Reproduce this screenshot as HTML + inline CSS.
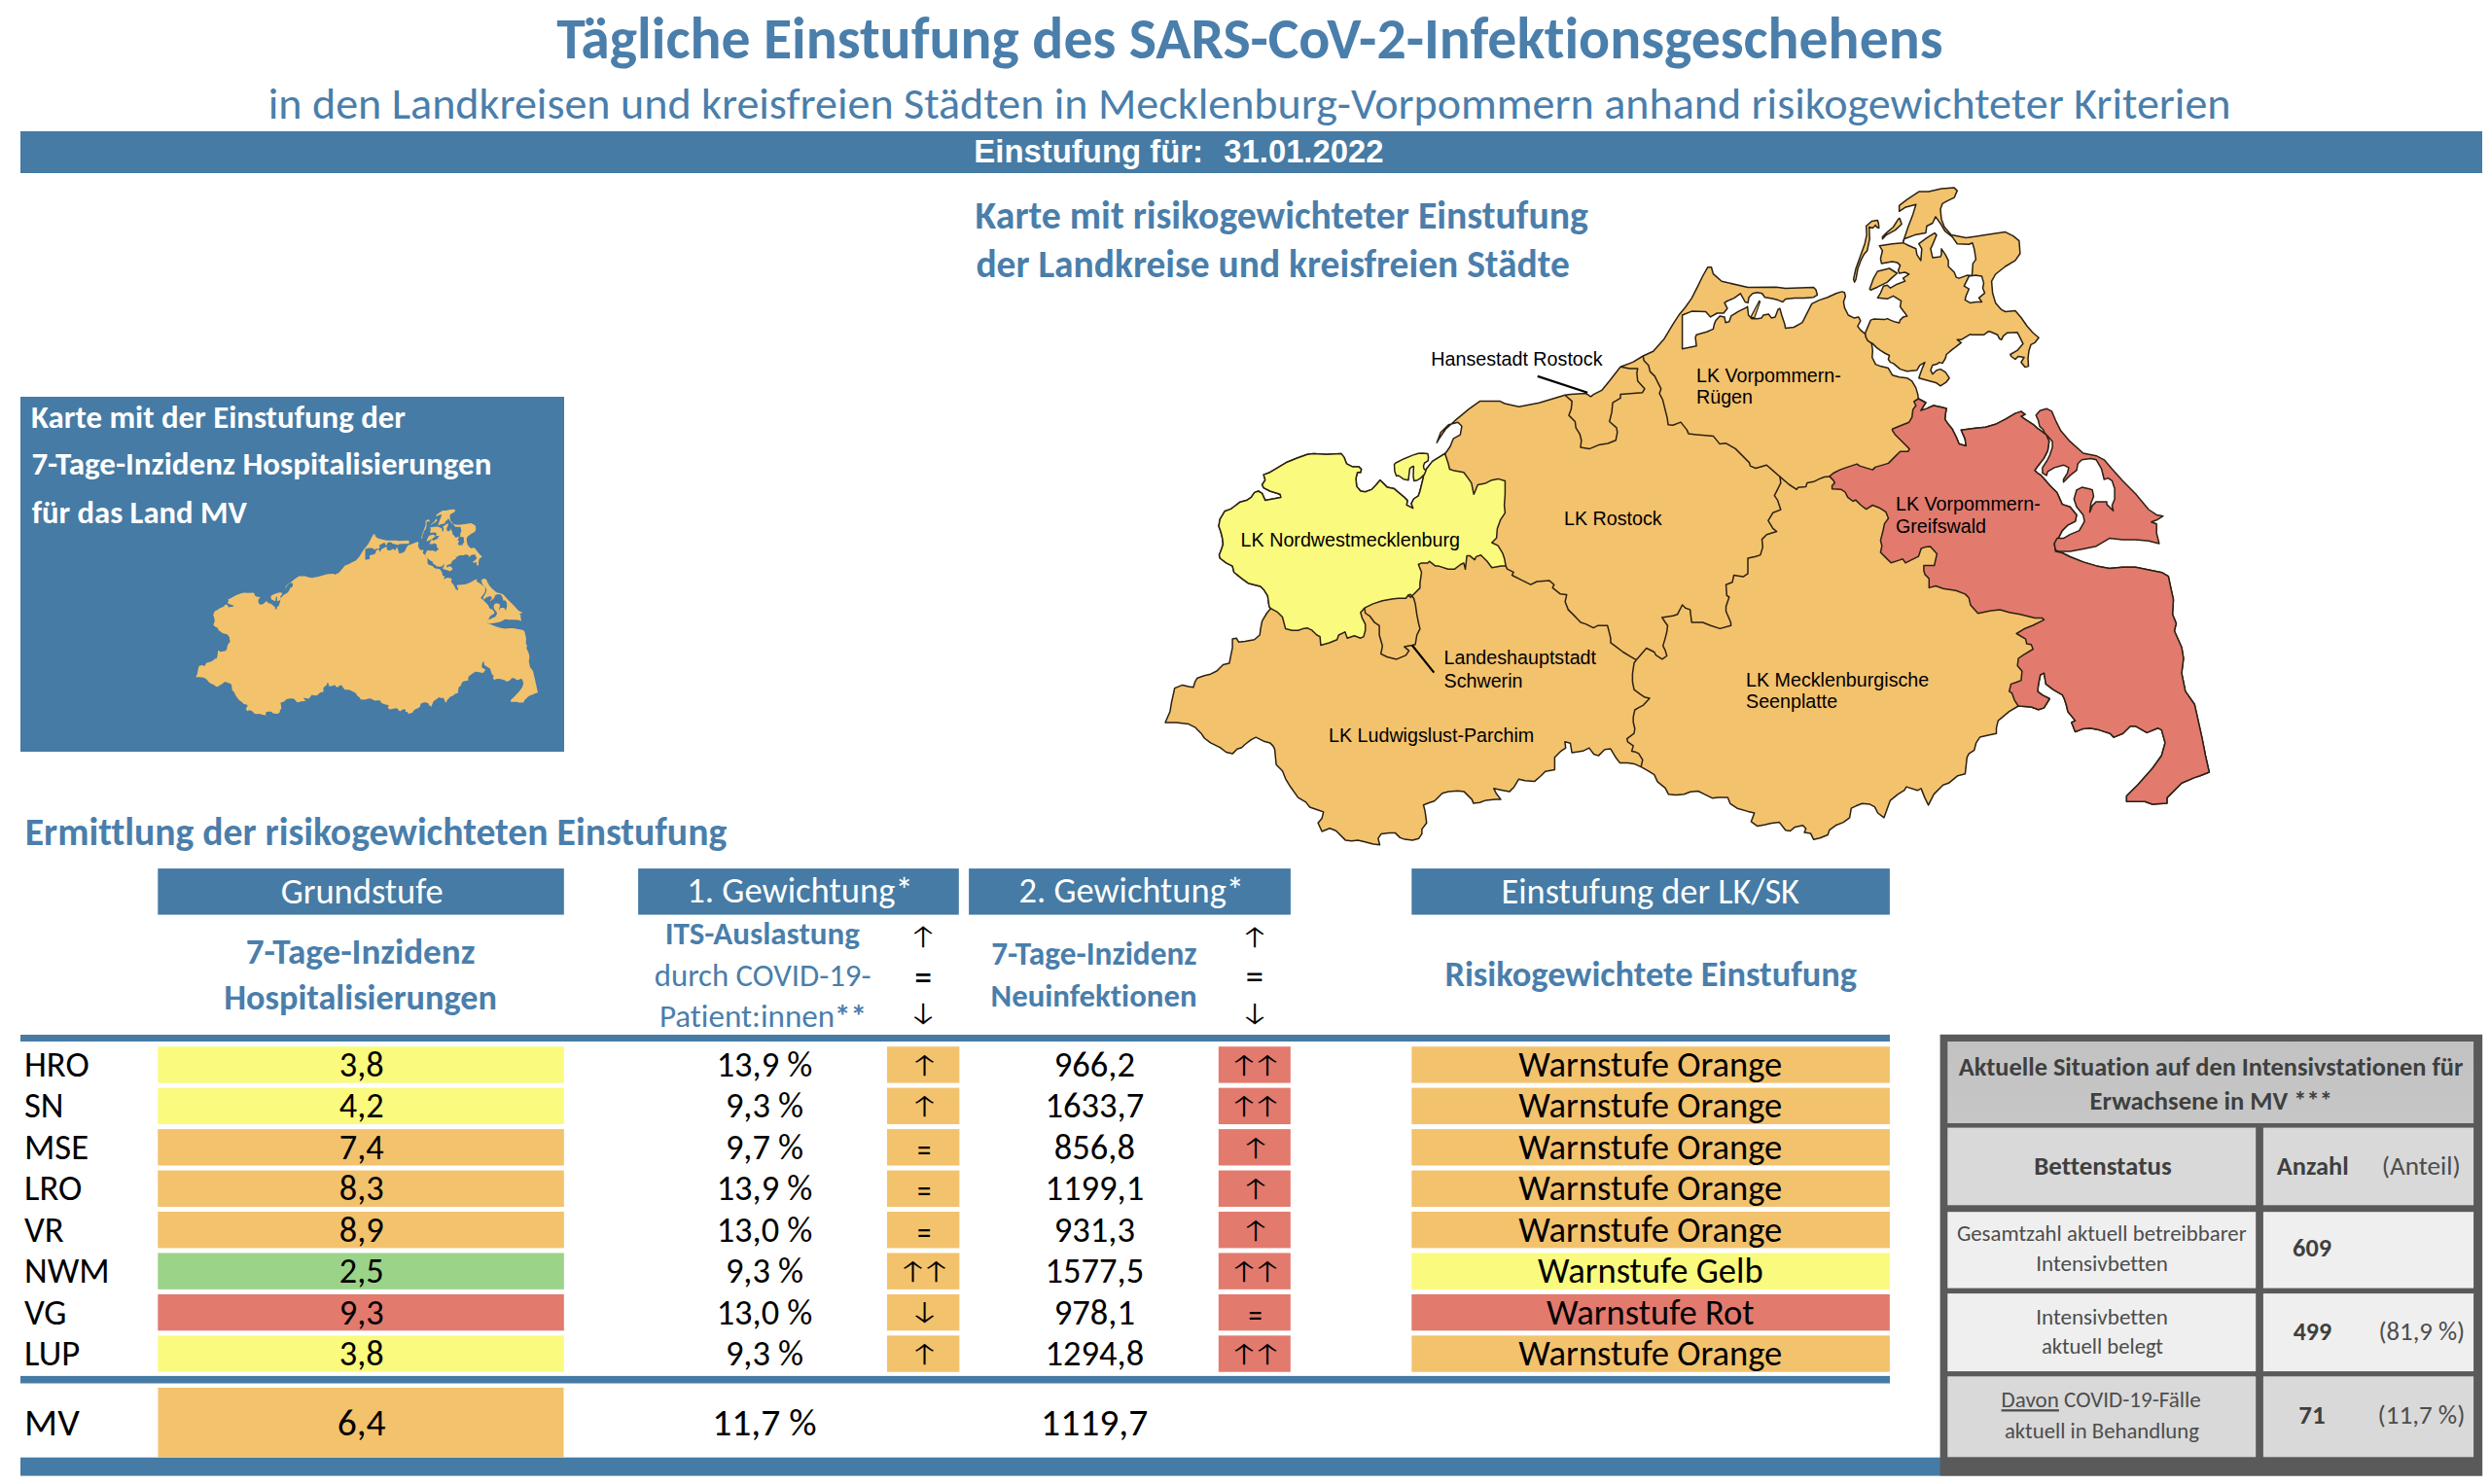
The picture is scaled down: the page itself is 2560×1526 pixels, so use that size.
<!DOCTYPE html><html lang="de"><head><meta charset="utf-8"><title>Tägliche Einstufung des SARS-CoV-2-Infektionsgeschehens</title>
<style>html,body{margin:0;padding:0;background:#fff;overflow:hidden}svg{display:block}text{font-family:Carlito, Calibri, 'Liberation Sans', sans-serif;font-variant-ligatures:none;font-feature-settings:"liga" 0,"clig" 0}</style></head><body>
<svg xmlns="http://www.w3.org/2000/svg" width="2560" height="1526" viewBox="0 0 2560 1526">
<rect width="2560" height="1526" fill="#fff"/>
<text textLength="1425.25" lengthAdjust="spacingAndGlyphs" x="572.3" y="59.8" font-size="59.69" font-weight="bold" fill="#4a7eab">Tägliche Einstufung des SARS-CoV-2-Infektionsgeschehens</text>
<text textLength="2017.77" lengthAdjust="spacingAndGlyphs" x="275.8" y="121.8" font-size="46.07" fill="#4a7eab">in den Landkreisen und kreisfreien Städten in Mecklenburg-Vorpommern anhand risikogewichteter Kriterien</text>
<rect x="21" y="135" width="2531" height="43" fill="#457ba5" />
<text textLength="235.78" lengthAdjust="spacingAndGlyphs" x="1001.3" y="167.3" font-size="32.91" font-weight="bold" style="font-family:'Liberation Sans', Arial, sans-serif" fill="#fff">Einstufung für:</text>
<text textLength="164.08" lengthAdjust="spacingAndGlyphs" x="1258.34" y="167.3" font-size="32.79" font-weight="bold" style="font-family:'Liberation Sans', Arial, sans-serif" fill="#fff">31.01.2022</text>
<text textLength="630.25" lengthAdjust="spacingAndGlyphs" x="1002.61" y="234.8" font-size="39.73" font-weight="bold" fill="#4a7eab">Karte mit risikogewichteter Einstufung</text>
<text textLength="610.44" lengthAdjust="spacingAndGlyphs" x="1003.42" y="284.6" font-size="39.47" font-weight="bold" fill="#4a7eab">der Landkreise und kreisfreien Städte</text>
<rect x="21" y="408" width="559" height="365" fill="#457ba5" />
<text textLength="384.98" lengthAdjust="spacingAndGlyphs" x="32.06" y="440.1" font-size="32.84" font-weight="bold" fill="#fff">Karte mit der Einstufung der</text>
<text textLength="473.00" lengthAdjust="spacingAndGlyphs" x="32.38" y="488.3" font-size="33.02" font-weight="bold" fill="#fff">7-Tage-Inzidenz Hospitalisierungen</text>
<text textLength="221.23" lengthAdjust="spacingAndGlyphs" x="32.67" y="537.5" font-size="32.68" font-weight="bold" fill="#fff">für das Land MV</text>
<g transform="translate(-191.262,463.135) scale(0.32768,0.31365)">
<polygon points="1304.9,623.8 1303.3,612.6 1299.2,606.2 1296,603 1283.2,599.7 1276.7,594.9 1268.7,588.5 1267.1,582.1 1260.7,578.9 1254.3,574 1253.5,570.8 1255.9,564.4 1257.5,559.6 1256.7,553.2 1255.1,546.7 1253,541.1 1254.3,533.9 1259.1,525.8 1265.5,523.4 1268.7,521 1275.1,516.2 1281.6,514.6 1286.4,511.4 1289.6,506.6 1293.6,505 1297.6,507.4 1300.8,514.6 1316.9,511.4 1316.1,508.2 1305.7,505 1299.2,501.7 1297.6,498.5 1300.8,493.7 1299.2,488.1 1305.7,485.7 1313.7,480.9 1323.3,475.2 1333,471.2 1344.2,467.2 1350.6,466.4 1363.5,467.2 1378.8,466.4 1382,470.4 1384.4,476.8 1390.8,480.1 1397.2,480.1 1399.6,482.5 1398.8,485.7 1395.6,485.7 1394,492.1 1394.8,500.1 1398.8,505 1403.7,505.8 1410.1,503.4 1414.9,498.5 1418.9,493.7 1422.1,496.9 1426.1,500.9 1433.4,502.6 1439,507.4 1443.8,511.4 1447,514.6 1446.2,519.4 1452.7,522.6 1451,517.8 1453.5,513 1458.3,509.8 1459.9,505 1461.5,498.5 1463.1,492.1 1463.9,487.3 1466.3,482.5 1472.7,474.4 1479.2,470.4 1485.6,466.4 1485.3,467.2 1490.9,459.2 1494.1,451.2 1501.3,447.1 1502.9,438.3 1498.9,434.3 1489.3,436.7 1481.2,444.7 1477.2,455.2 1479.6,451.2 1486.1,441.5 1495.7,432.7 1510.2,420.6 1521.4,412.6 1542.3,412.6 1547.1,415 1561.6,418.2 1582.4,414.2 1609,406.2 1614.6,405.4 1630.6,404.6 1635.5,407.8 1638.7,405.4 1646.7,401.4 1654.7,391.7 1666,377.3 1678.8,372.4 1689.3,366 1699.7,361.2 1711,348.4 1720.6,332.3 1727,322.7 1732.5,316.3 1739.3,306.6 1745.1,295.1 1750.8,283.5 1755.7,274.8 1759.5,274.8 1761.4,281.6 1770.1,289.3 1797.1,295.5 1826,295.3 1835.7,296.5 1864.6,295.5 1867,298 1868.4,303.3 1864.6,305.7 1854.9,306.4 1845.3,306.6 1835.7,307.4 1832.8,310.5 1828,308.6 1822.2,307.1 1814.5,305.7 1811.6,301.8 1806.7,300.8 1801.9,301.8 1798.1,305.7 1797.1,311.4 1794.2,310.5 1789.4,301.8 1782.7,306.6 1775.9,309.5 1773,311.4 1775.9,317.2 1772,322 1765.3,322 1758.6,325.9 1753.7,320.6 1739.3,320.1 1729.6,324 1729.6,358.7 1744.1,355.8 1743.1,347.1 1744.1,344.2 1754.7,341.3 1761.4,338.4 1762.4,333.6 1763.9,329.8 1768.2,324.9 1773,325.9 1774,331.7 1777.8,330.7 1779.8,324.9 1787.5,320.1 1795.2,316.3 1796.6,315.3 1797.6,324 1801,327.8 1806.7,327.8 1811.1,326.9 1813,324 1818.3,323 1821.2,326.9 1825.1,325.9 1828,318.2 1829.9,317.2 1831.8,324 1834.7,332.7 1835.7,337.5 1844.3,336.5 1853,331.7 1854.9,327.8 1858.8,320.1 1862.7,312.4 1870.4,308.6 1879,305.7 1887.7,301.8 1893.5,299.9 1896.4,300.8 1897.3,304.7 1895.4,310.5 1896.4,316.3 1900.2,324 1906,326.9 1910.8,325.9 1912.8,329.8 1909.9,335.5 1912.8,339.4 1917.6,343.3 1917.7,343.3 1920.2,349.3 1924.3,353.4 1925.3,360.4 1924.8,367.5 1928.3,374.6 1933.4,376.6 1941.4,378.6 1945.5,385.7 1952.6,387.7 1960.7,388.7 1965.7,391.8 1969.8,398.9 1971.8,405.9 1972.3,410 1972.3,410 1979.9,414 1974.8,422.1 1980.9,420.1 1987.9,417 1995,418.6 2001.1,420.1 2000.1,426.1 1999.6,431.2 2003.1,436.3 2007.2,441.3 2011.2,449.4 2014.2,456.5 2021.3,458.5 2020.3,451.4 2016.3,442.3 2031.4,440.3 2041.5,439.3 2051.6,436.3 2061.7,431.2 2071.9,425.1 2077.9,423.1 2082,426.1 2077.9,428.2 2082,431.2 2090.1,436.3 2094.6,440.4 2098.6,443.1 2104,447.2 2106.7,453.9 2105.3,463.3 2101.3,471.4 2095.9,478.2 2091.9,483.6 2094.6,486.3 2098.6,488.9 2108,499.7 2114.8,506.5 2120.2,518.6 2128.2,521.3 2135,529.4 2133.6,536.1 2125.6,540.2 2120.2,545.6 2116.1,553.6 2112.1,559 2113.4,567.1 2120.2,568.5 2128.2,572.5 2141.7,577.9 2155.2,581.9 2168.7,584.6 2182.2,583.3 2195.6,583.3 2209.1,586 2222.6,588.7 2229.3,592.7 2234.5,616.6 2233.6,631.7 2237.4,641.1 2235.5,648.7 2243,665.7 2244.9,677 2243,692.1 2246.8,710.9 2256.2,724.2 2260,741.1 2263.8,758.1 2267.5,777 2271.3,794 2261.9,797.7 2256.2,799.6 2243,805.3 2231.7,816.6 2227.9,820.4 2227.9,826 2212.8,827 2205.3,824.2 2186.4,824.2 2186.4,818.5 2197.7,807.2 2212.8,790.2 2222.3,777 2226,763.8 2222.3,750.6 2218.5,748.7 2207.2,753.4 2195.8,746.8 2190.2,746.8 2182.6,754.3 2173.2,758.1 2169.4,754.3 2158.1,750.6 2148.7,748.7 2141.1,749.6 2133.6,752.5 2129.8,743 2133.6,741.1 2126,731.7 2124.2,724.2 2122.3,718.5 2120.4,714.7 2110.9,709.1 2103.4,703.4 2101.5,692.1 2097.7,694 2095.8,703.4 2094.9,710.9 2099.6,714.7 2107.2,718.5 2101.5,727.9 2095.8,729.8 2088.3,727 2075.1,726 2075.1,726 2065.7,731.7 2054.3,741.1 2052.5,748.7 2052.5,754.3 2043,756.2 2035.5,758.1 2031.7,763.8 2029.8,771.3 2024.2,775.1 2022.3,778.9 2020.4,795.8 2012.8,797.7 2003.4,805.3 1997.7,807.2 1988.3,816.6 1982.6,827.9 1978.9,820.4 1975.1,810.9 1971.3,812.8 1960,809.1 1957.9,812.7 1951.4,816.7 1943.4,823.1 1937,840.8 1930.6,836 1927.3,829.6 1922.5,827.1 1914.5,826.3 1908.1,828.8 1903.3,831.2 1901.6,840.8 1895.2,845.6 1887.2,848.8 1880.8,853.7 1879.2,858.5 1871.1,861.7 1864.7,863.3 1861.5,856.9 1855.1,856.1 1856.7,852 1853.5,848.8 1845.4,850.4 1840.6,854.5 1835.8,853.7 1829.4,845.6 1821.3,846.4 1814.9,848 1806.9,849.6 1800.4,844.8 1803.7,836 1797.2,834.4 1786,831.2 1778.8,826.3 1776.3,819.9 1766.7,819.9 1760.3,820.7 1752.2,816.7 1745.8,813.5 1737.8,814.3 1731.4,816.7 1723.3,817.5 1715.3,816.7 1712.1,810.3 1704.1,803.9 1700.8,796.6 1694.4,792.6 1687.2,788.6 1680,785.4 1673.5,784.6 1665.5,784.6 1660.7,778.2 1655.9,770.1 1649.8,770.7 1643.4,777.1 1638.6,775.5 1633.8,769.1 1627.3,772.3 1622.5,773.1 1616.1,773.9 1614.5,764.3 1608.9,762.7 1609.7,769.1 1604.9,772.3 1598.4,778.7 1598.4,791.6 1588.8,793.2 1584,798 1577.6,803.6 1567.9,802.8 1561.5,801.2 1556.7,809.2 1551.8,814.1 1543.8,812.4 1535.8,810.8 1538.2,815.7 1543,822.1 1537.4,822.1 1527.8,822.9 1521.3,825.3 1514.9,826.1 1513.3,822.1 1505.3,814.1 1498.8,813.3 1489.2,814.1 1482.8,815.7 1474.7,823.7 1469.9,825.3 1463.5,827.7 1465.1,834.1 1465.9,839.8 1466.7,846.2 1461.9,852.6 1461.9,857.4 1458.7,862.2 1452.2,863.9 1444.2,863.1 1439.4,861.4 1434.6,856.6 1428.2,856.6 1420.1,857.4 1416.9,862.2 1418.5,868.7 1412.1,867.9 1402.4,865.5 1396,863.9 1389.6,864.7 1383.2,863.9 1373.5,854.2 1367.1,851.8 1359.1,855 1355.1,846.2 1359.1,841.4 1360.7,834.9 1355.9,833.3 1346.5,830 1346.6,830 1342.6,824.9 1334.6,820.1 1326.5,808.8 1321.7,800.8 1318.5,792.8 1312.1,786.3 1310.5,770.3 1308.9,767.1 1305.7,763.9 1299.2,762.2 1291.2,758.2 1286.4,760.6 1280,765.5 1276.7,768.7 1271.9,770.3 1267.1,775.1 1260.7,773.5 1254.3,768.7 1244.6,763.9 1238.2,759 1235,754.2 1228.6,747.8 1222.1,744.6 1209.3,743 1198,743 1202.9,731.7 1204.5,722.1 1207.7,707.6 1215.7,704.4 1222.1,706 1226.9,706.8 1228.6,701.2 1231,697.2 1238.2,694.8 1244.6,693.2 1251,690 1257.5,683.5 1263.9,681.9 1265.5,673.9 1267.1,665.9 1267.1,657 1271.1,656.2 1273.5,660.2 1280,659.4 1289.6,657.8 1295.2,653 1296,646.6 1297.6,638.6 1302.4,630.5 1306.5,625.7" fill="#f3c26d"/>
<polygon points="1952.6,211.3 1960.7,205.2 1972.8,197.1 1982.9,197.1 1996,194.1 2009.2,193.1 2012.2,196.1 2009.2,203.2 2001.1,207.2 1997,209.3 1995,215.3 1996,225.4 1999.1,233.5 2006.1,241.6 2021.3,244.6 2041.5,241.6 2061.7,238.6 2069.8,242.6 2075.9,247.7 2076.9,260.8 2071.9,267.9 2061.7,274 2051.6,282 2047.6,289.1 2048.6,301.3 2051.6,311.4 2057.7,318.4 2061.7,320.5 2071.9,319.5 2077.9,326.5 2084,335.2 2090.1,342.2 2096.1,347.3 2092.1,352.3 2088,354.4 2086,360.4 2085,368.5 2085.5,376.6 2082,377.6 2077.9,372.6 2081,367.5 2074.9,366.5 2071.9,369.5 2067.8,366.5 2066.8,364.5 2073.9,360.4 2079.9,353.4 2074.9,343.3 2073.9,341.7 2063.8,342.2 2059.7,345.3 2057.7,349.3 2055.7,348.3 2053.7,344.3 2046.6,341.2 2044.6,340.7 2039.5,344.3 2027.4,344.3 2025.4,343.8 2016.3,349.3 2012.2,349.3 2016.3,352.3 2011.2,356.4 2007.2,359.4 2001.1,364.5 2000.1,368.5 1997,373.6 1994,372.6 1991,374.6 1986.9,375.6 1984.9,380.7 1986.9,384.7 1991,380.7 1995,379.6 2000.1,382.7 2004.1,388.7 2001.1,392.8 1995,396.8 1991,393.8 1972.8,388.7 1974.8,382.7 1976.8,377.6 1978.9,372.6 1973.8,375.6 1970.8,380.7 1960.7,381.7 1953.6,379.6 1946.5,373.6 1943.5,372.6 1941.4,369.5 1942.5,365.5 1938.4,363.5 1933.4,360.4 1929.3,357.4 1925.3,353.4 1920.2,350.3 1918.2,346.3 1917.7,342.4 1923.3,329.1 1926.3,328.1 1937.4,328.6 1940.4,327.6 1943.5,329.1 1948.5,331.1 1952.6,332.1 1953.6,329.1 1956.6,326.1 1960.7,325.1 1958.6,322 1956.6,319.5 1953.6,315.4 1954.6,309.3 1946.5,304.3 1940.4,307.3 1930.3,306.3 1933.4,301.3 1936.4,294.2 1940.4,293.2 1943.5,296.2 1950.5,292.2 1958.6,289.1 1956.6,286.1 1962.7,282 1958.6,280 1952.6,281 1951.6,278 1953.6,272.9 1950.5,269.9 1945.5,268.9 1934.4,270.9 1933.4,265.9 1935.4,257.8 1932.3,252.7 1945.5,250.7 1956.6,249.7 1957.6,245.7 1961.7,233.5 1966.7,220.4 1969.8,210.3 1958.6,213.3 1952.6,217.3" fill="#f3c26d"/>
<polygon points="1922.2,297.2 1926.3,286.1 1930.3,279 1942.5,276 1950.5,281 1944.5,286.1 1940.4,290.1 1936.4,292.2 1930.3,295.2 1923.3,298.2" fill="#f3c26d"/>
<polygon points="1918.7,232.5 1924.3,227.5 1930.3,226.4 1931.3,229.5 1931.8,234.5 1929.3,233.5 1928.3,231.5 1925.3,234.5 1921.7,233.5 1922.2,245.7 1919.7,257.8 1916.2,261.8 1913.1,267.9 1910.1,276 1908.1,287.1 1906.6,290.1 1905.6,287.1 1908.1,276 1912.1,264.9 1917.2,250.7 1919.2,241.6" fill="#f3c26d"/>
<polygon points="1935.4,245.7 1939.4,241.6 1948.5,236.6 1955.1,230.5 1953.1,224.4 1951.6,225.4 1946.5,233.5 1940.4,238.6 1935.4,243.6" fill="#f3c26d"/>
<polygon points="1433.5,477.5 1435,476 1443.6,471.7 1452.3,468.1 1458.1,466.3 1462.4,465.9 1467.9,466.6 1468.6,470.2 1468.2,473.9 1464.6,476 1463.5,478.9 1463.9,481.8 1466,484 1464.6,487.6 1460.3,491.9 1456.6,494.1 1453.8,494.5 1453,489.8 1453.4,479.6 1451.6,480 1449.4,481.8 1448.7,487.6 1448,493.7 1442.9,492.7 1437.8,489 1435.7,489.4 1433.9,484.7" fill="#f3c26d"/>
<polygon points="2093.2,427 2097.3,422.2 2104,420.2 2109.4,422.9 2113.4,432.3 2118.8,443.1 2128.2,453.9 2141.7,466 2155.2,468.7 2163.3,472.8 2171.4,482.2 2182.2,494.3 2195.6,507.8 2209.1,524 2217.2,529.4 2223.9,530.7 2217.2,534.8 2211.8,536.8 2217.2,538.8 2217.2,548.2 2219.9,559 2209.1,556.3 2195.6,555 2182.2,555 2168.7,553.6 2155.2,561.7 2141.7,564.4 2128.2,567.1 2117.5,567.1 2113.4,565.8 2112.1,559 2114.8,553.6 2121.5,553.6 2128.2,549.6 2137.7,545.6 2143.1,536.1 2141.7,529.4 2135,521.3 2132.3,513.2 2135,503.8 2140.4,501.1 2147.1,502.4 2151.2,503.8 2152.5,510.5 2149.8,517.3 2148.5,526.7 2151.2,519.9 2155.2,515.9 2166,515.9 2166,518.6 2172.7,525.3 2171.4,519.9 2174.1,513.2 2174.1,502.4 2171.4,494.3 2167.3,491.6 2163.3,493 2160.6,482.2 2155.2,472.8 2149.8,471.4 2140.4,472.8 2136.3,476.8 2135,483.6 2128.2,488.9 2121.5,495.7 2121.5,493 2125.6,486.3 2126.9,480.9 2121.5,478.2 2112.1,480.9 2105.3,484.9 2104,488.9 2099.9,486.3 2099.9,480.9 2104.7,473.5 2107.4,468.1 2110.1,460 2110.1,453.9 2106,449.2 2102,445.1 2100.6,441.8 2097,438.4 2095.6,432.3" fill="#f3c26d"/>
<polygon points="1957.6,245.7 1968.7,241.6 1979.9,239.6 1980.9,232.5 1986.9,229.5 1990,222.9 1995.5,230.5 1999.6,237.6 2007.2,243.6 2012.2,250.7 2024.3,251.2 2027.9,249.7 2029.9,256.8 2031.4,266.9 2028.4,270.9 2027.4,283.6 2022.3,283.1 2014.2,286.1 2011.2,285.1 2009.2,280 2003.1,274 2003.1,267.9 2000.1,261.8 1996,255.8 1996,261.8 1995,263.9 1986.9,264.9 1984.9,255.8 1986.9,251.7 1991,241.6 1989,239.6 1980.9,244.6 1972.8,250.7 1975.8,255.8 1974.8,267.9 1970.8,261.8 1969.8,255.8 1960.7,251.7 1956.6,249.7" fill="#457ba5"/>
<polygon points="2024.3,284.1 2031.4,283.1 2037.5,284.1 2039.5,291.1 2038.5,296.2 2040.5,301.3 2034.5,306.3 2037.5,310.4 2031.4,310.4 2025.4,311.4 2020.3,308.3 2021.3,304.3 2024.3,297.2 2019.3,294.2 2021.3,290.1" fill="#457ba5"/>
</g>
<g id="bigmap">
<polygon points="1304.9,623.8 1303.3,612.6 1299.2,606.2 1296,603 1283.2,599.7 1276.7,594.9 1268.7,588.5 1267.1,582.1 1260.7,578.9 1254.3,574 1253.5,570.8 1255.9,564.4 1257.5,559.6 1256.7,553.2 1255.1,546.7 1253,541.1 1254.3,533.9 1259.1,525.8 1265.5,523.4 1268.7,521 1275.1,516.2 1281.6,514.6 1286.4,511.4 1289.6,506.6 1293.6,505 1297.6,507.4 1300.8,514.6 1316.9,511.4 1316.1,508.2 1305.7,505 1299.2,501.7 1297.6,498.5 1300.8,493.7 1299.2,488.1 1305.7,485.7 1313.7,480.9 1323.3,475.2 1333,471.2 1344.2,467.2 1350.6,466.4 1363.5,467.2 1378.8,466.4 1382,470.4 1384.4,476.8 1390.8,480.1 1397.2,480.1 1399.6,482.5 1398.8,485.7 1395.6,485.7 1394,492.1 1394.8,500.1 1398.8,505 1403.7,505.8 1410.1,503.4 1414.9,498.5 1418.9,493.7 1422.1,496.9 1426.1,500.9 1433.4,502.6 1439,507.4 1443.8,511.4 1447,514.6 1446.2,519.4 1452.7,522.6 1451,517.8 1453.5,513 1458.3,509.8 1459.9,505 1461.5,498.5 1463.1,492.1 1463.9,487.3 1466.3,482.5 1472.7,474.4 1479.2,470.4 1485.6,466.4 1485.3,467.2 1490.9,459.2 1494.1,451.2 1501.3,447.1 1502.9,438.3 1498.9,434.3 1489.3,436.7 1481.2,444.7 1477.2,455.2 1479.6,451.2 1486.1,441.5 1495.7,432.7 1510.2,420.6 1521.4,412.6 1542.3,412.6 1547.1,415 1561.6,418.2 1582.4,414.2 1609,406.2 1614.6,405.4 1630.6,404.6 1635.5,407.8 1638.7,405.4 1646.7,401.4 1654.7,391.7 1666,377.3 1678.8,372.4 1689.3,366 1699.7,361.2 1711,348.4 1720.6,332.3 1727,322.7 1732.5,316.3 1739.3,306.6 1745.1,295.1 1750.8,283.5 1755.7,274.8 1759.5,274.8 1761.4,281.6 1770.1,289.3 1797.1,295.5 1826,295.3 1835.7,296.5 1864.6,295.5 1867,298 1868.4,303.3 1864.6,305.7 1854.9,306.4 1845.3,306.6 1835.7,307.4 1832.8,310.5 1828,308.6 1822.2,307.1 1814.5,305.7 1811.6,301.8 1806.7,300.8 1801.9,301.8 1798.1,305.7 1797.1,311.4 1794.2,310.5 1789.4,301.8 1782.7,306.6 1775.9,309.5 1773,311.4 1775.9,317.2 1772,322 1765.3,322 1758.6,325.9 1753.7,320.6 1739.3,320.1 1729.6,324 1729.6,358.7 1744.1,355.8 1743.1,347.1 1744.1,344.2 1754.7,341.3 1761.4,338.4 1762.4,333.6 1763.9,329.8 1768.2,324.9 1773,325.9 1774,331.7 1777.8,330.7 1779.8,324.9 1787.5,320.1 1795.2,316.3 1796.6,315.3 1797.6,324 1801,327.8 1806.7,327.8 1811.1,326.9 1813,324 1818.3,323 1821.2,326.9 1825.1,325.9 1828,318.2 1829.9,317.2 1831.8,324 1834.7,332.7 1835.7,337.5 1844.3,336.5 1853,331.7 1854.9,327.8 1858.8,320.1 1862.7,312.4 1870.4,308.6 1879,305.7 1887.7,301.8 1893.5,299.9 1896.4,300.8 1897.3,304.7 1895.4,310.5 1896.4,316.3 1900.2,324 1906,326.9 1910.8,325.9 1912.8,329.8 1909.9,335.5 1912.8,339.4 1917.6,343.3 1917.7,343.3 1920.2,349.3 1924.3,353.4 1925.3,360.4 1924.8,367.5 1928.3,374.6 1933.4,376.6 1941.4,378.6 1945.5,385.7 1952.6,387.7 1960.7,388.7 1965.7,391.8 1969.8,398.9 1971.8,405.9 1972.3,410 1972.3,410 1979.9,414 1974.8,422.1 1980.9,420.1 1987.9,417 1995,418.6 2001.1,420.1 2000.1,426.1 1999.6,431.2 2003.1,436.3 2007.2,441.3 2011.2,449.4 2014.2,456.5 2021.3,458.5 2020.3,451.4 2016.3,442.3 2031.4,440.3 2041.5,439.3 2051.6,436.3 2061.7,431.2 2071.9,425.1 2077.9,423.1 2082,426.1 2077.9,428.2 2082,431.2 2090.1,436.3 2094.6,440.4 2098.6,443.1 2104,447.2 2106.7,453.9 2105.3,463.3 2101.3,471.4 2095.9,478.2 2091.9,483.6 2094.6,486.3 2098.6,488.9 2108,499.7 2114.8,506.5 2120.2,518.6 2128.2,521.3 2135,529.4 2133.6,536.1 2125.6,540.2 2120.2,545.6 2116.1,553.6 2112.1,559 2113.4,567.1 2120.2,568.5 2128.2,572.5 2141.7,577.9 2155.2,581.9 2168.7,584.6 2182.2,583.3 2195.6,583.3 2209.1,586 2222.6,588.7 2229.3,592.7 2234.5,616.6 2233.6,631.7 2237.4,641.1 2235.5,648.7 2243,665.7 2244.9,677 2243,692.1 2246.8,710.9 2256.2,724.2 2260,741.1 2263.8,758.1 2267.5,777 2271.3,794 2261.9,797.7 2256.2,799.6 2243,805.3 2231.7,816.6 2227.9,820.4 2227.9,826 2212.8,827 2205.3,824.2 2186.4,824.2 2186.4,818.5 2197.7,807.2 2212.8,790.2 2222.3,777 2226,763.8 2222.3,750.6 2218.5,748.7 2207.2,753.4 2195.8,746.8 2190.2,746.8 2182.6,754.3 2173.2,758.1 2169.4,754.3 2158.1,750.6 2148.7,748.7 2141.1,749.6 2133.6,752.5 2129.8,743 2133.6,741.1 2126,731.7 2124.2,724.2 2122.3,718.5 2120.4,714.7 2110.9,709.1 2103.4,703.4 2101.5,692.1 2097.7,694 2095.8,703.4 2094.9,710.9 2099.6,714.7 2107.2,718.5 2101.5,727.9 2095.8,729.8 2088.3,727 2075.1,726 2075.1,726 2065.7,731.7 2054.3,741.1 2052.5,748.7 2052.5,754.3 2043,756.2 2035.5,758.1 2031.7,763.8 2029.8,771.3 2024.2,775.1 2022.3,778.9 2020.4,795.8 2012.8,797.7 2003.4,805.3 1997.7,807.2 1988.3,816.6 1982.6,827.9 1978.9,820.4 1975.1,810.9 1971.3,812.8 1960,809.1 1957.9,812.7 1951.4,816.7 1943.4,823.1 1937,840.8 1930.6,836 1927.3,829.6 1922.5,827.1 1914.5,826.3 1908.1,828.8 1903.3,831.2 1901.6,840.8 1895.2,845.6 1887.2,848.8 1880.8,853.7 1879.2,858.5 1871.1,861.7 1864.7,863.3 1861.5,856.9 1855.1,856.1 1856.7,852 1853.5,848.8 1845.4,850.4 1840.6,854.5 1835.8,853.7 1829.4,845.6 1821.3,846.4 1814.9,848 1806.9,849.6 1800.4,844.8 1803.7,836 1797.2,834.4 1786,831.2 1778.8,826.3 1776.3,819.9 1766.7,819.9 1760.3,820.7 1752.2,816.7 1745.8,813.5 1737.8,814.3 1731.4,816.7 1723.3,817.5 1715.3,816.7 1712.1,810.3 1704.1,803.9 1700.8,796.6 1694.4,792.6 1687.2,788.6 1680,785.4 1673.5,784.6 1665.5,784.6 1660.7,778.2 1655.9,770.1 1649.8,770.7 1643.4,777.1 1638.6,775.5 1633.8,769.1 1627.3,772.3 1622.5,773.1 1616.1,773.9 1614.5,764.3 1608.9,762.7 1609.7,769.1 1604.9,772.3 1598.4,778.7 1598.4,791.6 1588.8,793.2 1584,798 1577.6,803.6 1567.9,802.8 1561.5,801.2 1556.7,809.2 1551.8,814.1 1543.8,812.4 1535.8,810.8 1538.2,815.7 1543,822.1 1537.4,822.1 1527.8,822.9 1521.3,825.3 1514.9,826.1 1513.3,822.1 1505.3,814.1 1498.8,813.3 1489.2,814.1 1482.8,815.7 1474.7,823.7 1469.9,825.3 1463.5,827.7 1465.1,834.1 1465.9,839.8 1466.7,846.2 1461.9,852.6 1461.9,857.4 1458.7,862.2 1452.2,863.9 1444.2,863.1 1439.4,861.4 1434.6,856.6 1428.2,856.6 1420.1,857.4 1416.9,862.2 1418.5,868.7 1412.1,867.9 1402.4,865.5 1396,863.9 1389.6,864.7 1383.2,863.9 1373.5,854.2 1367.1,851.8 1359.1,855 1355.1,846.2 1359.1,841.4 1360.7,834.9 1355.9,833.3 1346.5,830 1346.6,830 1342.6,824.9 1334.6,820.1 1326.5,808.8 1321.7,800.8 1318.5,792.8 1312.1,786.3 1310.5,770.3 1308.9,767.1 1305.7,763.9 1299.2,762.2 1291.2,758.2 1286.4,760.6 1280,765.5 1276.7,768.7 1271.9,770.3 1267.1,775.1 1260.7,773.5 1254.3,768.7 1244.6,763.9 1238.2,759 1235,754.2 1228.6,747.8 1222.1,744.6 1209.3,743 1198,743 1202.9,731.7 1204.5,722.1 1207.7,707.6 1215.7,704.4 1222.1,706 1226.9,706.8 1228.6,701.2 1231,697.2 1238.2,694.8 1244.6,693.2 1251,690 1257.5,683.5 1263.9,681.9 1265.5,673.9 1267.1,665.9 1267.1,657 1271.1,656.2 1273.5,660.2 1280,659.4 1289.6,657.8 1295.2,653 1296,646.6 1297.6,638.6 1302.4,630.5 1306.5,625.7" fill="#f3c26d" stroke="#2b2113" stroke-width="1.5" stroke-linejoin="round" />
<polygon points="1952.6,211.3 1960.7,205.2 1972.8,197.1 1982.9,197.1 1996,194.1 2009.2,193.1 2012.2,196.1 2009.2,203.2 2001.1,207.2 1997,209.3 1995,215.3 1996,225.4 1999.1,233.5 2006.1,241.6 2021.3,244.6 2041.5,241.6 2061.7,238.6 2069.8,242.6 2075.9,247.7 2076.9,260.8 2071.9,267.9 2061.7,274 2051.6,282 2047.6,289.1 2048.6,301.3 2051.6,311.4 2057.7,318.4 2061.7,320.5 2071.9,319.5 2077.9,326.5 2084,335.2 2090.1,342.2 2096.1,347.3 2092.1,352.3 2088,354.4 2086,360.4 2085,368.5 2085.5,376.6 2082,377.6 2077.9,372.6 2081,367.5 2074.9,366.5 2071.9,369.5 2067.8,366.5 2066.8,364.5 2073.9,360.4 2079.9,353.4 2074.9,343.3 2073.9,341.7 2063.8,342.2 2059.7,345.3 2057.7,349.3 2055.7,348.3 2053.7,344.3 2046.6,341.2 2044.6,340.7 2039.5,344.3 2027.4,344.3 2025.4,343.8 2016.3,349.3 2012.2,349.3 2016.3,352.3 2011.2,356.4 2007.2,359.4 2001.1,364.5 2000.1,368.5 1997,373.6 1994,372.6 1991,374.6 1986.9,375.6 1984.9,380.7 1986.9,384.7 1991,380.7 1995,379.6 2000.1,382.7 2004.1,388.7 2001.1,392.8 1995,396.8 1991,393.8 1972.8,388.7 1974.8,382.7 1976.8,377.6 1978.9,372.6 1973.8,375.6 1970.8,380.7 1960.7,381.7 1953.6,379.6 1946.5,373.6 1943.5,372.6 1941.4,369.5 1942.5,365.5 1938.4,363.5 1933.4,360.4 1929.3,357.4 1925.3,353.4 1920.2,350.3 1918.2,346.3 1917.7,342.4 1923.3,329.1 1926.3,328.1 1937.4,328.6 1940.4,327.6 1943.5,329.1 1948.5,331.1 1952.6,332.1 1953.6,329.1 1956.6,326.1 1960.7,325.1 1958.6,322 1956.6,319.5 1953.6,315.4 1954.6,309.3 1946.5,304.3 1940.4,307.3 1930.3,306.3 1933.4,301.3 1936.4,294.2 1940.4,293.2 1943.5,296.2 1950.5,292.2 1958.6,289.1 1956.6,286.1 1962.7,282 1958.6,280 1952.6,281 1951.6,278 1953.6,272.9 1950.5,269.9 1945.5,268.9 1934.4,270.9 1933.4,265.9 1935.4,257.8 1932.3,252.7 1945.5,250.7 1956.6,249.7 1957.6,245.7 1961.7,233.5 1966.7,220.4 1969.8,210.3 1958.6,213.3 1952.6,217.3" fill="#f3c26d" stroke="#2b2113" stroke-width="1.5" stroke-linejoin="round" />
<polygon points="1957.6,245.7 1968.7,241.6 1979.9,239.6 1980.9,232.5 1986.9,229.5 1990,222.9 1995.5,230.5 1999.6,237.6 2007.2,243.6 2012.2,250.7 2024.3,251.2 2027.9,249.7 2029.9,256.8 2031.4,266.9 2028.4,270.9 2027.4,283.6 2022.3,283.1 2014.2,286.1 2011.2,285.1 2009.2,280 2003.1,274 2003.1,267.9 2000.1,261.8 1996,255.8 1996,261.8 1995,263.9 1986.9,264.9 1984.9,255.8 1986.9,251.7 1991,241.6 1989,239.6 1980.9,244.6 1972.8,250.7 1975.8,255.8 1974.8,267.9 1970.8,261.8 1969.8,255.8 1960.7,251.7 1956.6,249.7" fill="#fff" stroke="#2b2113" stroke-width="1.5" stroke-linejoin="round" />
<polygon points="2024.3,284.1 2031.4,283.1 2037.5,284.1 2039.5,291.1 2038.5,296.2 2040.5,301.3 2034.5,306.3 2037.5,310.4 2031.4,310.4 2025.4,311.4 2020.3,308.3 2021.3,304.3 2024.3,297.2 2019.3,294.2 2021.3,290.1" fill="#fff" stroke="#2b2113" stroke-width="1.5" stroke-linejoin="round" />
<polygon points="1922.2,297.2 1926.3,286.1 1930.3,279 1942.5,276 1950.5,281 1944.5,286.1 1940.4,290.1 1936.4,292.2 1930.3,295.2 1923.3,298.2" fill="#f3c26d" stroke="#2b2113" stroke-width="1.5" stroke-linejoin="round" />
<polygon points="1800,326.1 1808.8,309.3 1809.6,310.1 1803.8,326.9" fill="#f3c26d" stroke="#2b2113" stroke-width="1.2" stroke-linejoin="round" />
<polygon points="1918.7,232.5 1924.3,227.5 1930.3,226.4 1931.3,229.5 1931.8,234.5 1929.3,233.5 1928.3,231.5 1925.3,234.5 1921.7,233.5 1922.2,245.7 1919.7,257.8 1916.2,261.8 1913.1,267.9 1910.1,276 1908.1,287.1 1906.6,290.1 1905.6,287.1 1908.1,276 1912.1,264.9 1917.2,250.7 1919.2,241.6" fill="#f3c26d" stroke="#2b2113" stroke-width="1.5" stroke-linejoin="round" />
<polygon points="1935.4,245.7 1939.4,241.6 1948.5,236.6 1955.1,230.5 1953.1,224.4 1951.6,225.4 1946.5,233.5 1940.4,238.6 1935.4,243.6" fill="#f3c26d" stroke="#2b2113" stroke-width="1.5" stroke-linejoin="round" />
<polygon points="1304.9,623.8 1303.3,612.6 1299.2,606.2 1296,603 1283.2,599.7 1276.7,594.9 1268.7,588.5 1267.1,582.1 1260.7,578.9 1254.3,574 1253.5,570.8 1255.9,564.4 1257.5,559.6 1256.7,553.2 1255.1,546.7 1253,541.1 1254.3,533.9 1259.1,525.8 1265.5,523.4 1268.7,521 1275.1,516.2 1281.6,514.6 1286.4,511.4 1289.6,506.6 1293.6,505 1297.6,507.4 1300.8,514.6 1316.9,511.4 1316.1,508.2 1305.7,505 1299.2,501.7 1297.6,498.5 1300.8,493.7 1299.2,488.1 1305.7,485.7 1313.7,480.9 1323.3,475.2 1333,471.2 1344.2,467.2 1350.6,466.4 1363.5,467.2 1378.8,466.4 1382,470.4 1384.4,476.8 1390.8,480.1 1397.2,480.1 1399.6,482.5 1398.8,485.7 1395.6,485.7 1394,492.1 1394.8,500.1 1398.8,505 1403.7,505.8 1410.1,503.4 1414.9,498.5 1418.9,493.7 1422.1,496.9 1426.1,500.9 1433.4,502.6 1439,507.4 1443.8,511.4 1447,514.6 1446.2,519.4 1452.7,522.6 1451,517.8 1453.5,513 1458.3,509.8 1459.9,505 1461.5,498.5 1463.1,492.1 1463.9,487.3 1466.3,482.5 1472.7,474.4 1479.2,470.4 1485.6,466.4 1485.6,466.4 1488.8,476 1490.4,482.5 1495.2,484.1 1504.9,485.7 1509.7,492.1 1512.9,496.9 1514.5,505 1515.3,508.2 1519.3,498.5 1527.3,496.9 1533.8,493.7 1540.2,492.4 1547.4,494.5 1547.4,508.2 1546.6,519.4 1547.4,527.4 1542.6,534.7 1539.4,543.5 1538.6,553.2 1533.8,558 1540.2,561.2 1545,569.2 1546.6,574 1548.2,582.1 1548.2,582.1 1543.4,582.1 1533.8,583.7 1529,577.2 1522.5,570.8 1517.7,572.4 1516.1,575.6 1511.3,571.6 1508.1,571.6 1506.5,585.3 1504.9,578.9 1501.6,580.5 1495.2,585.3 1488.8,585.3 1479.2,582.1 1475.9,582.1 1469.5,577.2 1467.9,578.9 1461.5,578.9 1458.3,580.5 1461.5,588.5 1459.9,599.7 1459.9,604.6 1450.2,614.2 1447.8,612.3 1447.8,612 1445.4,615.3 1437.4,615.3 1431,616.1 1421.3,617.7 1411.7,620.9 1402.9,625.2 1402.9,625.2 1398.8,629.7 1400.4,635.3 1403.7,641.8 1403.7,648.2 1402,654.6 1398.8,656.2 1392.4,653.8 1385.2,656.2 1382.8,649.8 1376.3,653 1374.7,657.8 1366.7,661 1357.9,663.5 1357.1,654.6 1353.9,653 1349,648.2 1344.2,645.8 1339.4,646.6 1334.6,648.2 1328.2,648.2 1321.7,646.6 1318.5,634.5 1313.7,629.7 1306.5,625.7" fill="#fafa7e" stroke="#2b2113" stroke-width="1.5" stroke-linejoin="round" />
<polygon points="1433.5,477.5 1435,476 1443.6,471.7 1452.3,468.1 1458.1,466.3 1462.4,465.9 1467.9,466.6 1468.6,470.2 1468.2,473.9 1464.6,476 1463.5,478.9 1463.9,481.8 1466,484 1464.6,487.6 1460.3,491.9 1456.6,494.1 1453.8,494.5 1453,489.8 1453.4,479.6 1451.6,480 1449.4,481.8 1448.7,487.6 1448,493.7 1442.9,492.7 1437.8,489 1435.7,489.4 1433.9,484.7" fill="#fafa7e" stroke="#2b2113" stroke-width="1.5" stroke-linejoin="round" />
<polygon points="1972.3,410 1979.9,414 1974.8,422.1 1980.9,420.1 1987.9,417 1995,418.6 2001.1,420.1 2000.1,426.1 1999.6,431.2 2003.1,436.3 2007.2,441.3 2011.2,449.4 2014.2,456.5 2021.3,458.5 2020.3,451.4 2016.3,442.3 2031.4,440.3 2041.5,439.3 2051.6,436.3 2061.7,431.2 2071.9,425.1 2077.9,423.1 2082,426.1 2077.9,428.2 2082,431.2 2090.1,436.3 2094.6,440.4 2098.6,443.1 2104,447.2 2106.7,453.9 2105.3,463.3 2101.3,471.4 2095.9,478.2 2091.9,483.6 2094.6,486.3 2098.6,488.9 2108,499.7 2114.8,506.5 2120.2,518.6 2128.2,521.3 2135,529.4 2133.6,536.1 2125.6,540.2 2120.2,545.6 2116.1,553.6 2112.1,559 2113.4,567.1 2120.2,568.5 2128.2,572.5 2141.7,577.9 2155.2,581.9 2168.7,584.6 2182.2,583.3 2195.6,583.3 2209.1,586 2222.6,588.7 2229.3,592.7 2234.5,616.6 2233.6,631.7 2237.4,641.1 2235.5,648.7 2243,665.7 2244.9,677 2243,692.1 2246.8,710.9 2256.2,724.2 2260,741.1 2263.8,758.1 2267.5,777 2271.3,794 2261.9,797.7 2256.2,799.6 2243,805.3 2231.7,816.6 2227.9,820.4 2227.9,826 2212.8,827 2205.3,824.2 2186.4,824.2 2186.4,818.5 2197.7,807.2 2212.8,790.2 2222.3,777 2226,763.8 2222.3,750.6 2218.5,748.7 2207.2,753.4 2195.8,746.8 2190.2,746.8 2182.6,754.3 2173.2,758.1 2169.4,754.3 2158.1,750.6 2148.7,748.7 2141.1,749.6 2133.6,752.5 2129.8,743 2133.6,741.1 2126,731.7 2124.2,724.2 2122.3,718.5 2120.4,714.7 2110.9,709.1 2103.4,703.4 2101.5,692.1 2097.7,694 2095.8,703.4 2094.9,710.9 2099.6,714.7 2107.2,718.5 2101.5,727.9 2095.8,729.8 2088.3,727 2075.1,726 2075.1,726 2071.3,720.4 2068.5,712.8 2065.7,710.9 2067.5,703.4 2073.2,701.5 2077.9,699.6 2078.9,690.2 2074.2,684.5 2075.1,677 2080.8,673.2 2090.2,667.5 2088.3,662.8 2083.6,661.9 2082.6,657.2 2073.2,651.5 2080.8,646.8 2090.2,643 2101.5,637.4 2099.6,635.5 2092.1,635.5 2077,631.7 2065.7,629.8 2056.2,627 2046.8,627.9 2033.6,630.8 2026,622.3 2024.2,614.7 2020.4,610.9 2010.9,607.2 1997.7,605.3 1990.2,602.5 1983.3,604.4 1983.3,595 1979.2,590.9 1977.9,586.9 1977.9,581.5 1988.7,581.5 1991.4,569.4 1984.6,562 1979.2,562.6 1975.2,564 1972.5,572.1 1964.4,576.1 1959,578.8 1956.3,574.8 1952.3,576.1 1944.2,578.8 1938.8,573.4 1933.4,568 1934.8,561.3 1933.4,555.9 1936.1,545.1 1937.5,538.4 1941.5,533 1938.8,526.3 1932.1,522.2 1925.3,519.5 1918.6,523.6 1913.2,519.5 1907.8,514.1 1905.1,515.5 1899.7,511.4 1897,506 1893,503.3 1883.6,502.7 1883.6,499.3 1886.3,496.6 1884.9,493.9 1880.9,489.9 1880.9,489.9 1884.9,486.5 1891.6,483.1 1897,481.1 1909.2,477.1 1911.9,479.1 1925.3,483.1 1928,480.4 1934.8,478.4 1941.5,476.4 1948.2,469.6 1953.6,464.3 1961.7,464.3 1963.1,461.6 1959,457.5 1955,453.5 1948.2,446.7 1945.6,442.7 1945.5,441.3 1952.6,438.3 1962.7,434.2 1965.7,429.2 1966.7,421.1 1969.8,417 1967.7,413 1972.3,410" fill="#e27a6e" stroke="#2b2113" stroke-width="1.5" stroke-linejoin="round" />
<polygon points="2093.2,427 2097.3,422.2 2104,420.2 2109.4,422.9 2113.4,432.3 2118.8,443.1 2128.2,453.9 2141.7,466 2155.2,468.7 2163.3,472.8 2171.4,482.2 2182.2,494.3 2195.6,507.8 2209.1,524 2217.2,529.4 2223.9,530.7 2217.2,534.8 2211.8,536.8 2217.2,538.8 2217.2,548.2 2219.9,559 2209.1,556.3 2195.6,555 2182.2,555 2168.7,553.6 2155.2,561.7 2141.7,564.4 2128.2,567.1 2117.5,567.1 2113.4,565.8 2112.1,559 2114.8,553.6 2121.5,553.6 2128.2,549.6 2137.7,545.6 2143.1,536.1 2141.7,529.4 2135,521.3 2132.3,513.2 2135,503.8 2140.4,501.1 2147.1,502.4 2151.2,503.8 2152.5,510.5 2149.8,517.3 2148.5,526.7 2151.2,519.9 2155.2,515.9 2166,515.9 2166,518.6 2172.7,525.3 2171.4,519.9 2174.1,513.2 2174.1,502.4 2171.4,494.3 2167.3,491.6 2163.3,493 2160.6,482.2 2155.2,472.8 2149.8,471.4 2140.4,472.8 2136.3,476.8 2135,483.6 2128.2,488.9 2121.5,495.7 2121.5,493 2125.6,486.3 2126.9,480.9 2121.5,478.2 2112.1,480.9 2105.3,484.9 2104,488.9 2099.9,486.3 2099.9,480.9 2104.7,473.5 2107.4,468.1 2110.1,460 2110.1,453.9 2106,449.2 2102,445.1 2100.6,441.8 2097,438.4 2095.6,432.3" fill="#e27a6e" stroke="#2b2113" stroke-width="1.5" stroke-linejoin="round" />
<polyline points="1548.2,582 1549.6,585.1 1556.1,588.3 1554.5,591.5 1564.1,596.3 1573.7,601.2 1580.2,598 1593,597.1 1597.8,601.2 1596.2,604.4 1604.3,610.8 1610.7,611.6 1609.1,618.8 1612.3,626.9 1620.3,634.9 1625.1,640 1630.2,641.6 1638.2,645.6 1643,643.2 1652.7,643.2 1654.3,649.6 1655.9,656.1 1655.9,660.9 1662.3,665.7 1668.7,670.5 1676.7,675.3 1682.4,678.6" fill="none" stroke="#2b2113" stroke-width="1.5" stroke-linejoin="round"/>
<polyline points="1682.4,678.6 1680,681.8 1678.4,693 1678.4,701 1680,709.1 1686.4,713.9 1691.2,717.1 1696,717.9 1689.6,725.1 1684.8,727.6 1680.8,730 1679.2,737.2 1679.2,742.8 1680.8,749.2 1680,754.1 1672.7,759.7 1673.5,762.9 1679.2,766.9 1677.6,772.5 1681.6,773.3 1684.8,774.9 1688.8,781.4 1687.2,788.6" fill="none" stroke="#2b2113" stroke-width="1.5" stroke-linejoin="round"/>
<polyline points="1682.4,678.6 1688,672.1 1692.8,666.5 1700.8,670.5 1702.4,673.7 1708.9,677.8 1713.7,674.5 1712.1,668.9 1709.7,664.1 1712.1,656.1 1713.7,649.6 1714.5,643.2 1712.1,640 1708.7,634.9 1719.9,633.3 1724.7,631.7 1729.6,622 1732.8,625.3 1737.6,626.9 1739.2,640 1750.6,640 1758.7,643.2 1768.3,646.4 1779.6,643.2 1779.4,640 1774.5,628.5 1774.5,623.7 1777.8,614 1775.3,612.4 1774.5,601.2 1781,598.8 1782.6,591.5 1792.2,593.1 1797,589.9 1797,580.4 1797,573.9 1805.1,572.3 1809.9,570.6 1812.3,562.6 1811.5,554.6 1816.3,549.8 1826.7,546.5 1822.7,543.3 1817.9,535.3 1822.7,527.3 1830.8,524.1 1827.6,514.4 1824.3,509.6 1827.6,503.2 1830.8,496.7 1830,490.3" fill="none" stroke="#2b2113" stroke-width="1.5" stroke-linejoin="round"/>
<polyline points="1689.3,366 1690.1,370.8 1694.9,375.7 1696.5,382.1 1701.3,386.9 1704.5,393.3 1707.8,399.8 1706.1,404.6 1709.4,411 1711,417.4 1712.6,423.9 1714.2,430.3 1715,436.7 1719.9,437.3 1728,434.1 1734.4,442.1 1736,446.1 1744,446.9 1753.7,447.8 1761.7,448.6 1768.1,456.6 1774.5,455.8 1784.2,461.4 1792.2,469.4 1798.6,475.9 1799.4,479.1 1805.1,481.5 1816.3,478.3 1822.7,483.9 1830,490.3" fill="none" stroke="#2b2113" stroke-width="1.5" stroke-linejoin="round"/>
<polyline points="1609,406.2 1616.2,412.6 1615.4,420.6 1613,427.1 1619.4,433.5 1620.2,439.9 1624.2,446.3 1625.8,452.8 1625,460 1633.9,461.6 1643.5,457.6 1653.1,456 1661.2,452.8 1662.8,444.7 1662,439.9 1654.7,433.5 1657.1,423.9 1658,414.2 1666,409.4 1666,405.4 1678.8,404.6 1688.5,403.8 1690.9,399.8 1683.7,391.7 1682.9,383.7 1683.7,378.9 1675.6,378.9 1666,377.3" fill="none" stroke="#2b2113" stroke-width="1.5" stroke-linejoin="round"/>
<polyline points="1829.6,489.9 1839.1,498 1847.2,503.3 1848.5,501.3 1856.6,500.6 1858,496.6 1864.7,495.3 1870.1,492.6 1875.5,490.5 1880.9,489.9" fill="none" stroke="#2b2113" stroke-width="1.5" stroke-linejoin="round"/>
<polyline points="1447.8,612 1450.2,611.2 1453.5,615.3 1455.1,620.9 1456.7,632.1 1458.3,640.2 1459.9,646.6 1456.7,653 1455.1,662.7 1451.8,663.5 1443.8,665.1 1448.6,669.1 1445.4,673.9 1435.8,677.9 1426.1,675.5 1419.7,672.3 1421.3,664.3 1418.1,653 1418.1,643.4 1413.3,640.2 1408.5,633.7 1403.7,630.5 1402.9,625.2" fill="none" stroke="#2b2113" stroke-width="1.5" stroke-linejoin="round"/>
<polyline points="1580.8,386.9 1632.2,403.8" fill="none" stroke="#000" stroke-width="2.2" stroke-linejoin="round"/>
<polyline points="1451.8,663.5 1474.3,691.6" fill="none" stroke="#000" stroke-width="2.2" stroke-linejoin="round"/>
</g>
<text textLength="176.19" lengthAdjust="spacingAndGlyphs" x="1471.32" y="375.5" font-size="19.7" style="font-family:'Liberation Sans', Arial, sans-serif" fill="#000">Hansestadt Rostock</text>
<text textLength="225.42" lengthAdjust="spacingAndGlyphs" x="1275.62" y="562.2" font-size="19.71" style="font-family:'Liberation Sans', Arial, sans-serif" fill="#000">LK Nordwestmecklenburg</text>
<text textLength="148.81" lengthAdjust="spacingAndGlyphs" x="1744" y="393.4" font-size="19.7" style="font-family:'Liberation Sans', Arial, sans-serif" fill="#000">LK Vorpommern-</text>
<text textLength="58.02" lengthAdjust="spacingAndGlyphs" x="1744" y="414.8" font-size="19.7" style="font-family:'Liberation Sans', Arial, sans-serif" fill="#000">Rügen</text>
<text textLength="100.67" lengthAdjust="spacingAndGlyphs" x="1608" y="540.3" font-size="19.7" style="font-family:'Liberation Sans', Arial, sans-serif" fill="#000">LK Rostock</text>
<text textLength="148.81" lengthAdjust="spacingAndGlyphs" x="1949" y="525.3" font-size="19.7" style="font-family:'Liberation Sans', Arial, sans-serif" fill="#000">LK Vorpommern-</text>
<text textLength="93.00" lengthAdjust="spacingAndGlyphs" x="1949" y="547.8" font-size="19.7" style="font-family:'Liberation Sans', Arial, sans-serif" fill="#000">Greifswald</text>
<text textLength="156.55" lengthAdjust="spacingAndGlyphs" x="1484.5" y="682.9" font-size="19.7" style="font-family:'Liberation Sans', Arial, sans-serif" fill="#000">Landeshauptstadt</text>
<text textLength="80.98" lengthAdjust="spacingAndGlyphs" x="1484.5" y="706.6" font-size="19.7" style="font-family:'Liberation Sans', Arial, sans-serif" fill="#000">Schwerin</text>
<text textLength="188.23" lengthAdjust="spacingAndGlyphs" x="1795" y="705.6" font-size="19.7" style="font-family:'Liberation Sans', Arial, sans-serif" fill="#000">LK Mecklenburgische</text>
<text textLength="94.14" lengthAdjust="spacingAndGlyphs" x="1795" y="728.2" font-size="19.7" style="font-family:'Liberation Sans', Arial, sans-serif" fill="#000">Seenplatte</text>
<text textLength="211.19" lengthAdjust="spacingAndGlyphs" x="1366" y="763.1" font-size="19.7" style="font-family:'Liberation Sans', Arial, sans-serif" fill="#000">LK Ludwigslust-Parchim</text>
<text textLength="721.53" lengthAdjust="spacingAndGlyphs" x="25.72" y="868.5" font-size="39.67" font-weight="bold" fill="#4a7eab">Ermittlung der risikogewichteten Einstufung</text>
<rect x="162.3" y="893.1" width="417.5" height="47.5" fill="#457ba5" />
<rect x="656.1" y="893.1" width="329.7" height="47.5" fill="#457ba5" />
<rect x="996.1" y="893.1" width="330.8" height="47.5" fill="#457ba5" />
<rect x="1451.3" y="893.1" width="491.6" height="47.5" fill="#457ba5" />
<text textLength="167.02" lengthAdjust="spacingAndGlyphs" x="288.64" y="928.5" font-size="36.53" fill="#fff">Grundstufe</text>
<text textLength="232.36" lengthAdjust="spacingAndGlyphs" x="706.3" y="928" font-size="36.62" fill="#fff">1. Gewichtung*</text>
<text textLength="231.47" lengthAdjust="spacingAndGlyphs" x="1047.54" y="928" font-size="36.47" fill="#fff">2. Gewichtung*</text>
<text textLength="306.45" lengthAdjust="spacingAndGlyphs" x="1543.56" y="928.9" font-size="36.32" fill="#fff">Einstufung der LK/SK</text>
<text textLength="235.70" lengthAdjust="spacingAndGlyphs" x="252.81" y="991.2" font-size="37.13" font-weight="bold" fill="#4a7eab">7-Tage-Inzidenz</text>
<text textLength="280.75" lengthAdjust="spacingAndGlyphs" x="230.19" y="1038.2" font-size="36.23" font-weight="bold" fill="#4a7eab">Hospitalisierungen</text>
<text textLength="200.27" lengthAdjust="spacingAndGlyphs" x="683.69" y="971.1" font-size="33.04" font-weight="bold" fill="#4a7eab">ITS-Auslastung</text>
<text textLength="222.83" lengthAdjust="spacingAndGlyphs" x="672.69" y="1013.7" font-size="32.8" fill="#4a7eab">durch COVID-19-</text>
<text textLength="213.19" lengthAdjust="spacingAndGlyphs" x="677.88" y="1056.4" font-size="33.09" fill="#4a7eab">Patient:innen<tspan font-weight="bold">**</tspan></text>
<text textLength="211.39" lengthAdjust="spacingAndGlyphs" x="1019.17" y="991.7" font-size="33.31" font-weight="bold" fill="#4a7eab">7-Tage-Inzidenz</text>
<text textLength="212.06" lengthAdjust="spacingAndGlyphs" x="1018.53" y="1035.2" font-size="32.84" font-weight="bold" fill="#4a7eab">Neuinfektionen</text>
<text textLength="423.61" lengthAdjust="spacingAndGlyphs" x="1485.42" y="1014.2" font-size="36.4" font-weight="bold" fill="#4a7eab">Risikogewichtete Einstufung</text>
<text textLength="16.60" lengthAdjust="spacingAndGlyphs" transform="translate(949.18,974.40) scale(1.217,1)" font-size="29.32" text-anchor="middle" style="font-family:FreeSans, Carlito, 'DejaVu Sans', sans-serif" fill="#000">↑</text>
<text textLength="20.65" lengthAdjust="spacingAndGlyphs" transform="translate(949.18,1018.51) scale(0.866,1)" font-size="41.43" text-anchor="middle" style="font-family:Carlito, Calibri, 'Liberation Sans', sans-serif" fill="#000">=</text>
<text textLength="16.28" lengthAdjust="spacingAndGlyphs" transform="translate(949.18,1052.80) scale(1.241,1)" font-size="28.77" text-anchor="middle" style="font-family:FreeSans, Carlito, 'DejaVu Sans', sans-serif" fill="#000">↓</text>
<text textLength="15.75" lengthAdjust="spacingAndGlyphs" transform="translate(1289.98,973.60) scale(1.275,1)" font-size="27.84" text-anchor="middle" style="font-family:FreeSans, Carlito, 'DejaVu Sans', sans-serif" fill="#000">↑</text>
<text textLength="19.21" lengthAdjust="spacingAndGlyphs" transform="translate(1289.98,1016.99) scale(0.951,1)" font-size="38.57" text-anchor="middle" style="font-family:Carlito, Calibri, 'Liberation Sans', sans-serif" fill="#000">=</text>
<text textLength="16.20" lengthAdjust="spacingAndGlyphs" transform="translate(1289.98,1052.70) scale(1.240,1)" font-size="28.63" text-anchor="middle" style="font-family:FreeSans, Carlito, 'DejaVu Sans', sans-serif" fill="#000">↓</text>
<rect x="21" y="1064" width="1922" height="7" fill="#457ba5" />
<text textLength="66.72" lengthAdjust="spacingAndGlyphs" x="25" y="1107" font-size="36.7" fill="#000">HRO</text>
<rect x="162.3" y="1076.2" width="417.5" height="37.4" fill="#fafa7e" />
<text textLength="45.86" lengthAdjust="spacingAndGlyphs" x="371.7" y="1107" font-size="36.3" text-anchor="middle" fill="#000">3,8</text>
<text textLength="98.66" lengthAdjust="spacingAndGlyphs" x="786" y="1107" font-size="36.4" text-anchor="middle" fill="#000">13,9 %</text>
<rect x="912" y="1076.2" width="74.4" height="37.4" fill="#f3c26d" />
<text textLength="16.22" lengthAdjust="spacingAndGlyphs" transform="translate(950.38,1106.00) scale(1.259,1)" font-size="28.65" text-anchor="middle" style="font-family:FreeSans, Carlito, 'DejaVu Sans', sans-serif" fill="#000">↑</text>
<text textLength="83.11" lengthAdjust="spacingAndGlyphs" x="1125.4" y="1107" font-size="36.5" text-anchor="middle" fill="#000">966,2</text>
<rect x="1252.8" y="1076.2" width="74" height="37.4" fill="#e27a6e" />
<text textLength="16.22" lengthAdjust="spacingAndGlyphs" transform="translate(1278.98,1106.00) scale(1.259,1)" font-size="28.65" text-anchor="middle" style="font-family:FreeSans, Carlito, 'DejaVu Sans', sans-serif" fill="#000">↑</text>
<text textLength="16.22" lengthAdjust="spacingAndGlyphs" transform="translate(1302.98,1106.00) scale(1.259,1)" font-size="28.65" text-anchor="middle" style="font-family:FreeSans, Carlito, 'DejaVu Sans', sans-serif" fill="#000">↑</text>
<rect x="1451.3" y="1076.2" width="491.6" height="37.4" fill="#f3c26d" />
<text textLength="270.94" lengthAdjust="spacingAndGlyphs" x="1696.8" y="1107" font-size="36.6" text-anchor="middle" fill="#000">Warnstufe Orange</text>
<text textLength="40.55" lengthAdjust="spacingAndGlyphs" x="25" y="1149.45" font-size="36.7" fill="#000">SN</text>
<rect x="162.3" y="1118.65" width="417.5" height="37.4" fill="#fafa7e" />
<text textLength="45.86" lengthAdjust="spacingAndGlyphs" x="371.7" y="1149.45" font-size="36.3" text-anchor="middle" fill="#000">4,2</text>
<text textLength="80.22" lengthAdjust="spacingAndGlyphs" x="786" y="1149.45" font-size="36.4" text-anchor="middle" fill="#000">9,3 %</text>
<rect x="912" y="1118.65" width="74.4" height="37.4" fill="#f3c26d" />
<text textLength="16.22" lengthAdjust="spacingAndGlyphs" transform="translate(950.38,1148.45) scale(1.259,1)" font-size="28.65" text-anchor="middle" style="font-family:FreeSans, Carlito, 'DejaVu Sans', sans-serif" fill="#000">↑</text>
<text textLength="101.61" lengthAdjust="spacingAndGlyphs" x="1125.4" y="1149.45" font-size="36.5" text-anchor="middle" fill="#000">1633,7</text>
<rect x="1252.8" y="1118.65" width="74" height="37.4" fill="#e27a6e" />
<text textLength="16.22" lengthAdjust="spacingAndGlyphs" transform="translate(1278.98,1148.45) scale(1.259,1)" font-size="28.65" text-anchor="middle" style="font-family:FreeSans, Carlito, 'DejaVu Sans', sans-serif" fill="#000">↑</text>
<text textLength="16.22" lengthAdjust="spacingAndGlyphs" transform="translate(1302.98,1148.45) scale(1.259,1)" font-size="28.65" text-anchor="middle" style="font-family:FreeSans, Carlito, 'DejaVu Sans', sans-serif" fill="#000">↑</text>
<rect x="1451.3" y="1118.65" width="491.6" height="37.4" fill="#f3c26d" />
<text textLength="270.94" lengthAdjust="spacingAndGlyphs" x="1696.8" y="1149.45" font-size="36.6" text-anchor="middle" fill="#000">Warnstufe Orange</text>
<text textLength="66.14" lengthAdjust="spacingAndGlyphs" x="25" y="1191.9" font-size="36.7" fill="#000">MSE</text>
<rect x="162.3" y="1161.1" width="417.5" height="37.4" fill="#f3c26d" />
<text textLength="45.86" lengthAdjust="spacingAndGlyphs" x="371.7" y="1191.9" font-size="36.3" text-anchor="middle" fill="#000">7,4</text>
<text textLength="80.22" lengthAdjust="spacingAndGlyphs" x="786" y="1191.9" font-size="36.4" text-anchor="middle" fill="#000">9,7 %</text>
<rect x="912" y="1161.1" width="74.4" height="37.4" fill="#f3c26d" />
<text textLength="17.77" lengthAdjust="spacingAndGlyphs" transform="translate(950.04,1193.96) scale(0.804,1)" font-size="35.71" text-anchor="middle" style="font-family:Carlito, Calibri, 'Liberation Sans', sans-serif" fill="#000">=</text>
<text textLength="83.11" lengthAdjust="spacingAndGlyphs" x="1125.4" y="1191.9" font-size="36.5" text-anchor="middle" fill="#000">856,8</text>
<rect x="1252.8" y="1161.1" width="74" height="37.4" fill="#e27a6e" />
<text textLength="16.22" lengthAdjust="spacingAndGlyphs" transform="translate(1290.98,1190.90) scale(1.259,1)" font-size="28.65" text-anchor="middle" style="font-family:FreeSans, Carlito, 'DejaVu Sans', sans-serif" fill="#000">↑</text>
<rect x="1451.3" y="1161.1" width="491.6" height="37.4" fill="#f3c26d" />
<text textLength="270.94" lengthAdjust="spacingAndGlyphs" x="1696.8" y="1191.9" font-size="36.6" text-anchor="middle" fill="#000">Warnstufe Orange</text>
<text textLength="59.28" lengthAdjust="spacingAndGlyphs" x="25" y="1234.35" font-size="36.7" fill="#000">LRO</text>
<rect x="162.3" y="1203.55" width="417.5" height="37.4" fill="#f3c26d" />
<text textLength="45.86" lengthAdjust="spacingAndGlyphs" x="371.7" y="1234.35" font-size="36.3" text-anchor="middle" fill="#000">8,3</text>
<text textLength="98.66" lengthAdjust="spacingAndGlyphs" x="786" y="1234.35" font-size="36.4" text-anchor="middle" fill="#000">13,9 %</text>
<rect x="912" y="1203.55" width="74.4" height="37.4" fill="#f3c26d" />
<text textLength="17.77" lengthAdjust="spacingAndGlyphs" transform="translate(950.04,1236.41) scale(0.804,1)" font-size="35.71" text-anchor="middle" style="font-family:Carlito, Calibri, 'Liberation Sans', sans-serif" fill="#000">=</text>
<text textLength="101.61" lengthAdjust="spacingAndGlyphs" x="1125.4" y="1234.35" font-size="36.5" text-anchor="middle" fill="#000">1199,1</text>
<rect x="1252.8" y="1203.55" width="74" height="37.4" fill="#e27a6e" />
<text textLength="16.22" lengthAdjust="spacingAndGlyphs" transform="translate(1290.98,1233.35) scale(1.259,1)" font-size="28.65" text-anchor="middle" style="font-family:FreeSans, Carlito, 'DejaVu Sans', sans-serif" fill="#000">↑</text>
<rect x="1451.3" y="1203.55" width="491.6" height="37.4" fill="#f3c26d" />
<text textLength="270.94" lengthAdjust="spacingAndGlyphs" x="1696.8" y="1234.35" font-size="36.6" text-anchor="middle" fill="#000">Warnstufe Orange</text>
<text textLength="40.75" lengthAdjust="spacingAndGlyphs" x="25" y="1276.8" font-size="36.7" fill="#000">VR</text>
<rect x="162.3" y="1246" width="417.5" height="37.4" fill="#f3c26d" />
<text textLength="45.86" lengthAdjust="spacingAndGlyphs" x="371.7" y="1276.8" font-size="36.3" text-anchor="middle" fill="#000">8,9</text>
<text textLength="98.66" lengthAdjust="spacingAndGlyphs" x="786" y="1276.8" font-size="36.4" text-anchor="middle" fill="#000">13,0 %</text>
<rect x="912" y="1246" width="74.4" height="37.4" fill="#f3c26d" />
<text textLength="17.77" lengthAdjust="spacingAndGlyphs" transform="translate(950.04,1278.86) scale(0.804,1)" font-size="35.71" text-anchor="middle" style="font-family:Carlito, Calibri, 'Liberation Sans', sans-serif" fill="#000">=</text>
<text textLength="83.11" lengthAdjust="spacingAndGlyphs" x="1125.4" y="1276.8" font-size="36.5" text-anchor="middle" fill="#000">931,3</text>
<rect x="1252.8" y="1246" width="74" height="37.4" fill="#e27a6e" />
<text textLength="16.22" lengthAdjust="spacingAndGlyphs" transform="translate(1290.98,1275.80) scale(1.259,1)" font-size="28.65" text-anchor="middle" style="font-family:FreeSans, Carlito, 'DejaVu Sans', sans-serif" fill="#000">↑</text>
<rect x="1451.3" y="1246" width="491.6" height="37.4" fill="#f3c26d" />
<text textLength="270.94" lengthAdjust="spacingAndGlyphs" x="1696.8" y="1276.8" font-size="36.6" text-anchor="middle" fill="#000">Warnstufe Orange</text>
<text textLength="87.70" lengthAdjust="spacingAndGlyphs" x="25" y="1319.25" font-size="36.7" fill="#000">NWM</text>
<rect x="162.3" y="1288.45" width="417.5" height="37.4" fill="#9bd389" />
<text textLength="45.86" lengthAdjust="spacingAndGlyphs" x="371.7" y="1319.25" font-size="36.3" text-anchor="middle" fill="#000">2,5</text>
<text textLength="80.22" lengthAdjust="spacingAndGlyphs" x="786" y="1319.25" font-size="36.4" text-anchor="middle" fill="#000">9,3 %</text>
<rect x="912" y="1288.45" width="74.4" height="37.4" fill="#f3c26d" />
<text textLength="16.22" lengthAdjust="spacingAndGlyphs" transform="translate(938.38,1318.25) scale(1.259,1)" font-size="28.65" text-anchor="middle" style="font-family:FreeSans, Carlito, 'DejaVu Sans', sans-serif" fill="#000">↑</text>
<text textLength="16.22" lengthAdjust="spacingAndGlyphs" transform="translate(962.38,1318.25) scale(1.259,1)" font-size="28.65" text-anchor="middle" style="font-family:FreeSans, Carlito, 'DejaVu Sans', sans-serif" fill="#000">↑</text>
<text textLength="101.61" lengthAdjust="spacingAndGlyphs" x="1125.4" y="1319.25" font-size="36.5" text-anchor="middle" fill="#000">1577,5</text>
<rect x="1252.8" y="1288.45" width="74" height="37.4" fill="#e27a6e" />
<text textLength="16.22" lengthAdjust="spacingAndGlyphs" transform="translate(1278.98,1318.25) scale(1.259,1)" font-size="28.65" text-anchor="middle" style="font-family:FreeSans, Carlito, 'DejaVu Sans', sans-serif" fill="#000">↑</text>
<text textLength="16.22" lengthAdjust="spacingAndGlyphs" transform="translate(1302.98,1318.25) scale(1.259,1)" font-size="28.65" text-anchor="middle" style="font-family:FreeSans, Carlito, 'DejaVu Sans', sans-serif" fill="#000">↑</text>
<rect x="1451.3" y="1288.45" width="491.6" height="37.4" fill="#fafa7e" />
<text textLength="231.75" lengthAdjust="spacingAndGlyphs" x="1696.8" y="1319.25" font-size="36.6" text-anchor="middle" fill="#000">Warnstufe Gelb</text>
<text textLength="43.52" lengthAdjust="spacingAndGlyphs" x="25" y="1361.7" font-size="36.7" fill="#000">VG</text>
<rect x="162.3" y="1330.9" width="417.5" height="37.4" fill="#e27a6e" />
<text textLength="45.86" lengthAdjust="spacingAndGlyphs" x="371.7" y="1361.7" font-size="36.3" text-anchor="middle" fill="#000">9,3</text>
<text textLength="98.66" lengthAdjust="spacingAndGlyphs" x="786" y="1361.7" font-size="36.4" text-anchor="middle" fill="#000">13,0 %</text>
<rect x="912" y="1330.9" width="74.4" height="37.4" fill="#f3c26d" />
<text textLength="16.13" lengthAdjust="spacingAndGlyphs" transform="translate(950.38,1360.10) scale(1.266,1)" font-size="28.49" text-anchor="middle" style="font-family:FreeSans, Carlito, 'DejaVu Sans', sans-serif" fill="#000">↓</text>
<text textLength="83.11" lengthAdjust="spacingAndGlyphs" x="1125.4" y="1361.7" font-size="36.5" text-anchor="middle" fill="#000">978,1</text>
<rect x="1252.8" y="1330.9" width="74" height="37.4" fill="#e27a6e" />
<text textLength="17.77" lengthAdjust="spacingAndGlyphs" transform="translate(1290.64,1363.76) scale(0.804,1)" font-size="35.71" text-anchor="middle" style="font-family:Carlito, Calibri, 'Liberation Sans', sans-serif" fill="#000">=</text>
<rect x="1451.3" y="1330.9" width="491.6" height="37.4" fill="#e27a6e" />
<text textLength="213.52" lengthAdjust="spacingAndGlyphs" x="1696.8" y="1361.7" font-size="36.6" text-anchor="middle" fill="#000">Warnstufe Rot</text>
<text textLength="57.14" lengthAdjust="spacingAndGlyphs" x="25" y="1404.15" font-size="36.7" fill="#000">LUP</text>
<rect x="162.3" y="1373.35" width="417.5" height="37.4" fill="#fafa7e" />
<text textLength="45.86" lengthAdjust="spacingAndGlyphs" x="371.7" y="1404.15" font-size="36.3" text-anchor="middle" fill="#000">3,8</text>
<text textLength="80.22" lengthAdjust="spacingAndGlyphs" x="786" y="1404.15" font-size="36.4" text-anchor="middle" fill="#000">9,3 %</text>
<rect x="912" y="1373.35" width="74.4" height="37.4" fill="#f3c26d" />
<text textLength="16.22" lengthAdjust="spacingAndGlyphs" transform="translate(950.38,1403.15) scale(1.259,1)" font-size="28.65" text-anchor="middle" style="font-family:FreeSans, Carlito, 'DejaVu Sans', sans-serif" fill="#000">↑</text>
<text textLength="101.61" lengthAdjust="spacingAndGlyphs" x="1125.4" y="1404.15" font-size="36.5" text-anchor="middle" fill="#000">1294,8</text>
<rect x="1252.8" y="1373.35" width="74" height="37.4" fill="#e27a6e" />
<text textLength="16.22" lengthAdjust="spacingAndGlyphs" transform="translate(1278.98,1403.15) scale(1.259,1)" font-size="28.65" text-anchor="middle" style="font-family:FreeSans, Carlito, 'DejaVu Sans', sans-serif" fill="#000">↑</text>
<text textLength="16.22" lengthAdjust="spacingAndGlyphs" transform="translate(1302.98,1403.15) scale(1.259,1)" font-size="28.65" text-anchor="middle" style="font-family:FreeSans, Carlito, 'DejaVu Sans', sans-serif" fill="#000">↑</text>
<rect x="1451.3" y="1373.35" width="491.6" height="37.4" fill="#f3c26d" />
<text textLength="270.94" lengthAdjust="spacingAndGlyphs" x="1696.8" y="1404.15" font-size="36.6" text-anchor="middle" fill="#000">Warnstufe Orange</text>
<rect x="21" y="1414.9" width="1922" height="7.6" fill="#457ba5" />
<rect x="162.5" y="1426.9" width="417" height="71.3" fill="#f3c26d" />
<text textLength="56.66" lengthAdjust="spacingAndGlyphs" x="25.11" y="1475.7" font-size="39.85" fill="#000">MV</text>
<text textLength="49.91" lengthAdjust="spacingAndGlyphs" x="371.7" y="1475.6" font-size="39.5" text-anchor="middle" fill="#000">6,4</text>
<text textLength="107.30" lengthAdjust="spacingAndGlyphs" x="785.9" y="1475.7" font-size="39.6" text-anchor="middle" fill="#000">11,7 %</text>
<text textLength="110.19" lengthAdjust="spacingAndGlyphs" x="1125.2" y="1475.7" font-size="39.6" text-anchor="middle" fill="#000">1119,7</text>
<rect x="21" y="1498.7" width="2531" height="18.9" fill="#457ba5" />
<text x="22" y="1543" font-size="25" fill="#000" textLength="2528" lengthAdjust="spacing">* Die Gewichtung erfolgt anhand der Auslastung der Intensivbetten durch COVID-19-Patient:innen sowie anhand der 7-Tage-Inzidenz der Neuinfektionen; sie kann die Grundstufe jeweils um bis zu eine Stufe nach oben oder unten verschieben.</text>
<rect x="1994.6" y="1063.8" width="557.6" height="453.7" fill="#5a5a5a" />
<defs><linearGradient id="icuh" x1="0" y1="0" x2="0" y2="1"><stop offset="0" stop-color="#c2c2c2"/><stop offset="1" stop-color="#c6c6c6"/></linearGradient></defs>
<rect x="2002.3" y="1071" width="540.8" height="84" fill="url(#icuh)" />
<rect x="2002.3" y="1159.6" width="316.9" height="79.7" fill="#d9d9d9" />
<rect x="2326.9" y="1159.6" width="216.2" height="79.7" fill="#d9d9d9" />
<rect x="2002.3" y="1246.2" width="316.9" height="78.4" fill="#efefef" />
<rect x="2326.9" y="1246.2" width="216.2" height="78.4" fill="#efefef" />
<rect x="2002.3" y="1330.1" width="316.9" height="80" fill="#efefef" />
<rect x="2326.9" y="1330.1" width="216.2" height="80" fill="#efefef" />
<rect x="2002.3" y="1415.3" width="316.9" height="83" fill="#d9d9d9" />
<rect x="2326.9" y="1415.3" width="216.2" height="83" fill="#d9d9d9" />
<text textLength="518.66" lengthAdjust="spacingAndGlyphs" x="2013.7" y="1105.9" font-size="26.36" font-weight="bold" fill="#3f3f3f">Aktuelle Situation auf den Intensivstationen für</text>
<text textLength="249.25" lengthAdjust="spacingAndGlyphs" x="2148.61" y="1140.8" font-size="26.54" font-weight="bold" fill="#3f3f3f">Erwachsene in MV ***</text>
<text textLength="141.47" lengthAdjust="spacingAndGlyphs" x="2091.19" y="1208.2" font-size="26.91" font-weight="bold" fill="#3f3f3f">Bettenstatus</text>
<text textLength="73.94" lengthAdjust="spacingAndGlyphs" x="2340.8" y="1208.2" font-size="26.39" font-weight="bold" fill="#3f3f3f">Anzahl</text>
<text textLength="81.17" lengthAdjust="spacingAndGlyphs" x="2448.69" y="1208.2" font-size="27.22" fill="#4d4d4d">(Anteil)</text>
<text textLength="297.72" lengthAdjust="spacingAndGlyphs" x="2011.89" y="1275.8" font-size="22.81" fill="#4d4d4d">Gesamtzahl aktuell betreibbarer</text>
<text textLength="135.73" lengthAdjust="spacingAndGlyphs" x="2093.15" y="1307.4" font-size="23.12" fill="#4d4d4d">Intensivbetten</text>
<text textLength="39.92" lengthAdjust="spacingAndGlyphs" x="2357.11" y="1292.4" font-size="26.26" font-weight="bold" fill="#3f3f3f">609</text>
<text textLength="135.73" lengthAdjust="spacingAndGlyphs" x="2093.15" y="1361.5" font-size="23.12" fill="#4d4d4d">Intensivbetten</text>
<text textLength="125.06" lengthAdjust="spacingAndGlyphs" x="2098.89" y="1392" font-size="22.7" fill="#4d4d4d">aktuell belegt</text>
<text textLength="39.41" lengthAdjust="spacingAndGlyphs" x="2357.64" y="1378.1" font-size="25.91" font-weight="bold" fill="#3f3f3f">499</text>
<text textLength="88.75" lengthAdjust="spacingAndGlyphs" x="2445.43" y="1378.1" font-size="26.76" fill="#4d4d4d">(81,9 %)</text>
<text textLength="205.17" lengthAdjust="spacingAndGlyphs" x="2057.59" y="1447.2" font-size="23.05" fill="#4d4d4d"><tspan text-decoration="underline">Davon</tspan> COVID-19-Fälle</text>
<text textLength="199.94" lengthAdjust="spacingAndGlyphs" x="2060.99" y="1478.7" font-size="22.72" fill="#4d4d4d">aktuell in Behandlung</text>
<text textLength="27.39" lengthAdjust="spacingAndGlyphs" x="2363.32" y="1464" font-size="27.02" font-weight="bold" fill="#3f3f3f">71</text>
<text textLength="89.78" lengthAdjust="spacingAndGlyphs" x="2444.6" y="1464" font-size="27.07" fill="#4d4d4d">(11,7 %)</text>
</svg></body></html>
